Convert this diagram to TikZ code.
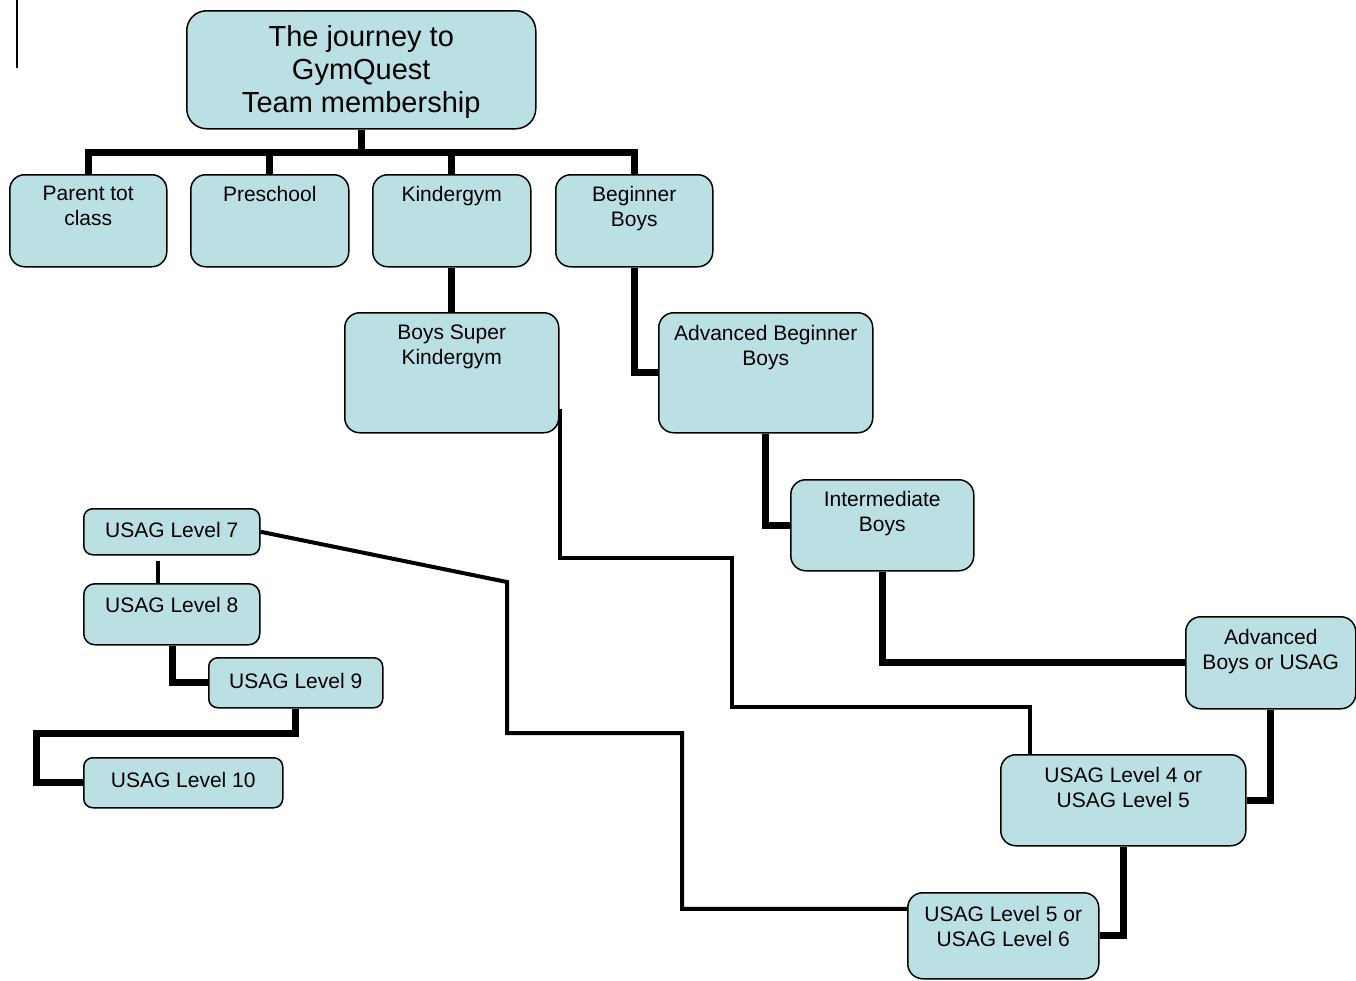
\documentclass[tikz,border=0pt]{standalone}
\usepackage{fontspec}
\setmainfont{Liberation Sans}
\definecolor{boxblue}{RGB}{187,224,227}
\tikzset{
  box/.style={draw=black, line width=1.5pt, fill=boxblue, rounded corners=#1, inner sep=0pt, anchor=north west},
  box/.default=15pt,
  txt/.style={anchor=north, inner sep=0pt, align=center, font=\fontsize{21}{25}\selectfont},
  bigtxt/.style={anchor=north, inner sep=0pt, align=center, font=\fontsize{29}{33}\selectfont},
  conn/.style={line width=7pt, line join=miter, line cap=butt},
  thinconn/.style={line width=4pt, line join=miter, line cap=butt}
}
\newcommand{\mybox}[7]{% name, x1, y1, x2, y2, radius, unused
  \node[box=#6, minimum width={(#4-#2)*1pt}, minimum height={(#5-#3)*1pt}] (#1) at (#2,#3) {};
}
\begin{document}
\begin{tikzpicture}[x=1pt,y=-1pt]
\useasboundingbox (0,0) rectangle (1356,980);
% stray cursor line
\draw[line width=1.5pt] (17,0) -- (17,68);

% boxes
\mybox{title}{186}{10}{535}{128}{20pt}{}
\mybox{parent}{9}{174}{166}{266}{15pt}{}
\mybox{pre}{190}{174}{348}{266}{15pt}{}
\mybox{kg}{372}{174}{530}{266}{15pt}{}
\mybox{bb}{555}{174}{712}{266}{15pt}{}
\mybox{bsk}{344}{312}{558}{432}{15pt}{}
\mybox{ab}{658}{312}{872}{432}{15pt}{}
\mybox{ib}{790}{479}{973}{570}{15pt}{}
\mybox{abu}{1185}{616}{1355}{708}{15pt}{}
\mybox{lfour}{1000}{754}{1245}{845}{15pt}{}
\mybox{lfive}{907}{892}{1098}{978}{15pt}{}
\mybox{lseven}{83}{508}{259}{554}{9pt}{}
\mybox{leight}{83}{583}{259}{644}{11pt}{}
\mybox{lnine}{208}{657}{382}{707}{9pt}{}
\mybox{lten}{83}{757}{282}{807}{9pt}{}

% texts
\node[bigtxt] (title-t) at ([yshift=-15pt]title.north) {The journey to\\GymQuest\\Team membership};
\node[txt] (parent-t) at ([yshift=-12pt]parent.north) {Parent tot\\class};
\node[txt] (pre-t) at ([yshift=-12pt]pre.north) {Preschool};
\node[txt] (kg-t) at ([yshift=-12pt]kg.north) {Kindergym};
\node[txt] (bb-t) at ([yshift=-12pt]bb.north) {Beginner\\Boys};
\node[txt] (bsk-t) at ([yshift=-13pt]bsk.north) {Boys Super\\Kindergym};
\node[txt] (ab-t) at ([yshift=-13pt]ab.north) {Advanced Beginner\\Boys};
\node[txt] (ib-t) at ([yshift=-12pt]ib.north) {Intermediate\\Boys};
\node[txt] (abu-t) at ([yshift=-13pt]abu.north) {Advanced\\Boys or USAG};
\node[txt] (lfour-t) at ([yshift=-13pt]lfour.north) {USAG Level 4 or\\USAG Level 5};
\node[txt] (lfive-t) at ([yshift=-14pt]lfive.north) {USAG Level 5 or\\USAG Level 6};
\node[txt] (lseven-t) at ([yshift=-14pt]lseven.north) {USAG Level 7};
\node[txt] (leight-t) at ([yshift=-14pt]leight.north) {USAG Level 8};
\node[txt] (lnine-t) at ([yshift=-16pt]lnine.north) {USAG Level 9};
\node[txt] (lten-t) at ([yshift=-15pt]lten.north) {USAG Level 10};

% connectors
\coordinate (busl) at (parent.north |- 0,152);
\coordinate (busr) at (bb.north |- 0,152);
\draw[conn] (title.south) -- (title.south |- busl);
\draw[conn] (parent.north) -- (busl) -- (busr) -- (bb.north);
\draw[conn] (pre.north) -- (pre.north |- busl);
\draw[conn] (kg.north) -- (kg.north |- busl);
\draw[conn] (kg.south) -- (bsk.north);
\draw[conn] (bb.south) |- (ab.west);
\draw[conn] (ab.south) |- (ib.west);
\draw[conn] (ib.south) |- (abu.west);
\draw[conn] (abu.south) |- (lfour.east);
\draw[conn] (lfour.south) |- (lfive.east);
\draw[thinconn] ([yshift=-36pt]bsk.east) |- (732,558) |- (1030,707) -- (lfour.north -| 1030,0);
\draw[thinconn] (lseven.east) -- (507,582) |- (682,733) |- ([yshift=27pt]lfive.west);
\draw[thinconn] (lseven.south -| 158,0) ++(0,5) -- (leight.north -| 158,0);
\draw[conn] (leight.south -| 172,0) |- (lnine.west);
\draw[conn] (lnine.south) |- (36,733) |- (lten.west);
\end{tikzpicture}
\end{document}
